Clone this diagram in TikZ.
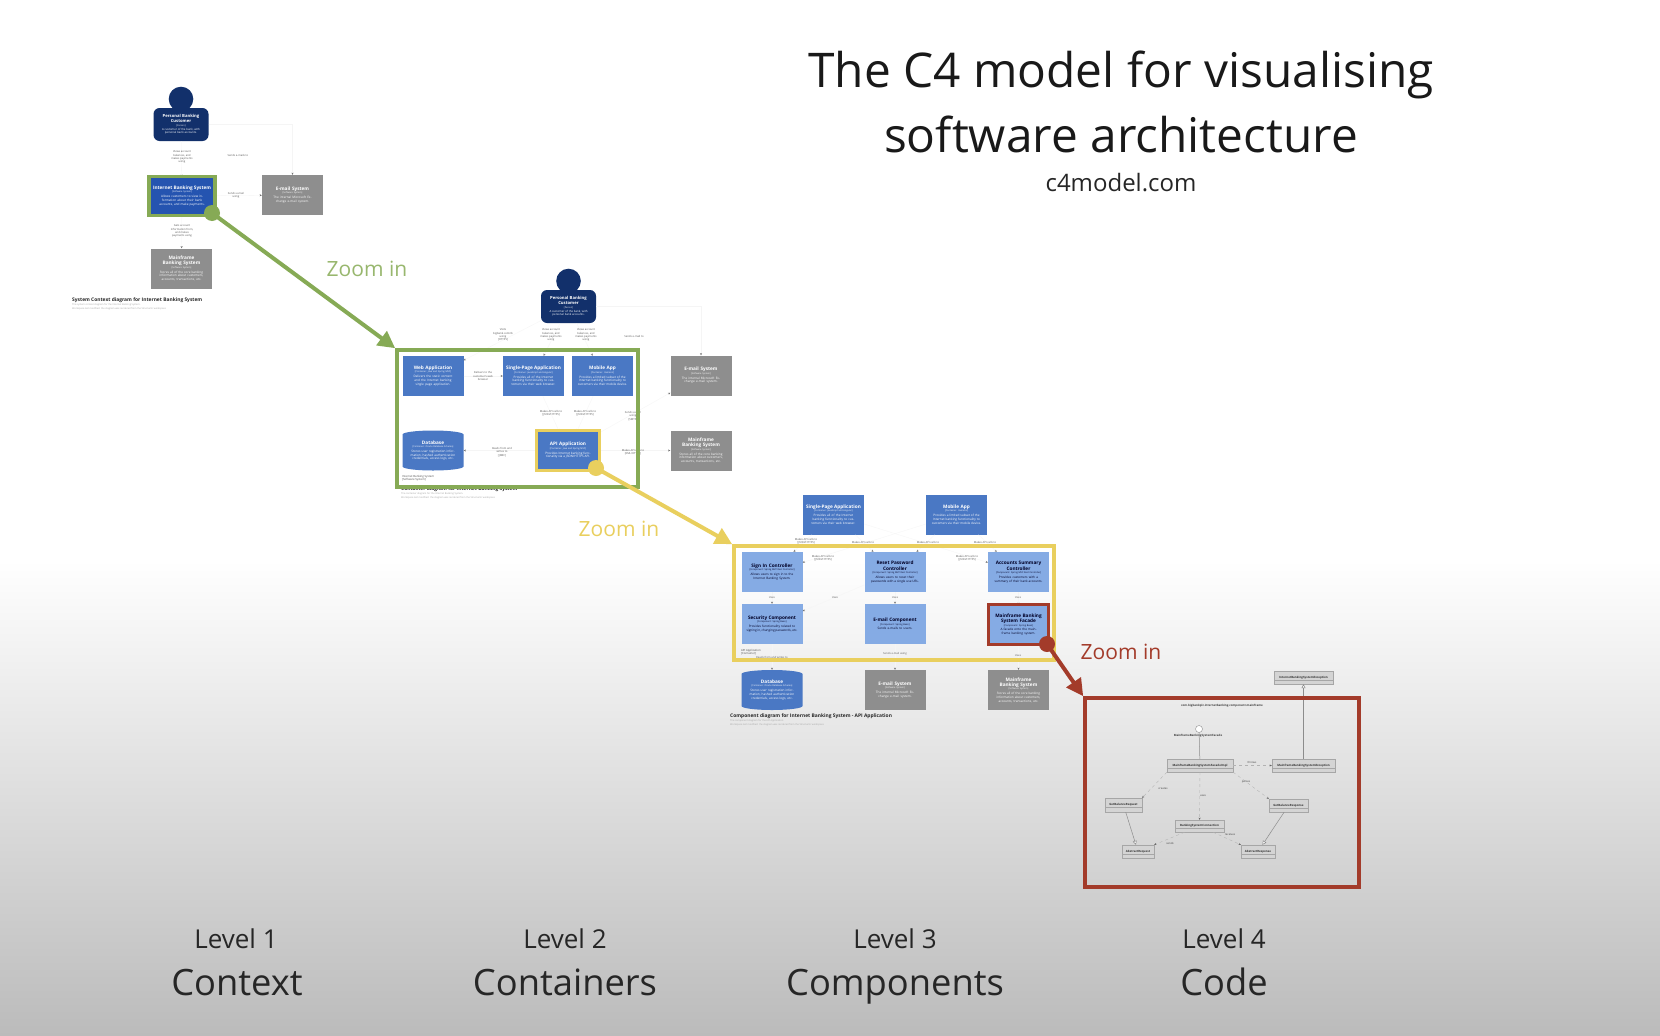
\documentclass[tikz,border=0pt]{standalone}
\usepackage{fontspec}
\setmainfont{Open Sans}
\usetikzlibrary{arrows.meta,shapes.geometric}
\definecolor{navy}{HTML}{12306B}
\definecolor{sysblue}{HTML}{2554B0}
\definecolor{contblue}{HTML}{4A78C4}
\definecolor{compblue}{HTML}{85ABE4}
\definecolor{extgray}{HTML}{8E8E8E}
\definecolor{zgreen}{HTML}{86AA55}
\definecolor{zyellow}{HTML}{E9CF5E}
\definecolor{zred}{HTML}{A33B2A}
\definecolor{bgbottom}{HTML}{BBBBBB}
\definecolor{umlfill}{HTML}{D4D4D4}
\newcommand{\szt}{\fontsize{4.7}{5.4}\selectfont\bfseries}
\newcommand{\szs}{\fontsize{2.3}{3.4}\selectfont}
\newcommand{\szd}{\fontsize{3.1}{3.7}\selectfont}
\newcommand{\boxtext}[3]{\spaceskip=0pt \xspaceskip=0pt {\szt #1\par}{\szs #2\par}\vskip 1.2pt{\szd \leftskip=3.5pt plus 2em \rightskip=3.5pt plus 2em #3\par}}
\newcommand{\mybox}[7]{\node[c4box,#1] (#2) at (#3,#4) {\boxtext{#5}{#6}{#7}};}
\newcommand{\myperson}[3]{%
  \node[circle,fill=navy,minimum size=24.6pt,inner sep=0pt] (#1head) at (#2,#3-25.5) {};
  \node[c4box,fill=navy,rounded corners=6pt,minimum width=55pt,minimum height=33pt,text width=48pt] (#1) at (#2,#3)
    {\spaceskip=0pt \xspaceskip=0pt {\fontsize{4.2}{4.8}\selectfont\bfseries Personal Banking Customer\par}{\szs [Person]\par}\vskip 1pt{\fontsize{2.8}{3.3}\selectfont A customer of the bank, with personal bank accounts.\par}};}
\tikzset{
  c4box/.style={rectangle,minimum width=61pt,minimum height=40pt,text width=58pt,align=center,inner sep=0pt,text=white},
  sysb/.style={fill=sysblue},
  contb/.style={fill=contblue},
  compb/.style={fill=compblue,text=black!85!blue},
  extb/.style={fill=extgray},
  dbb/.style={c4box,
    path picture={\fill[contblue] ([yshift=-4pt]path picture bounding box.north west)
      arc[start angle=180,end angle=0,x radius=30.5pt,y radius=4pt]
      -- ([yshift=4pt]path picture bounding box.south east)
      arc[start angle=0,end angle=-180,x radius=30.5pt,y radius=4pt] -- cycle;}},
  lab/.style={font=\fontsize{2.7}{3.3}\selectfont,text=black!65,align=center,inner sep=0pt},
  faint/.style={draw=black!4,line width=.3pt,-{Stealth[length=2.2pt,width=2pt,black!55]}},
  frame/.style={draw,line width=3.6pt},
  zoomdot/.style={circle,minimum size=16pt,inner sep=0pt},
  zoomarrow/.style={line width=4pt,-{Triangle[length=17pt,width=17pt]}},
  zoomlabel/.style={font=\fontsize{21}{25}\selectfont,inner sep=0pt},
  dtitle/.style={font=\fontsize{4.9}{5.5}\selectfont\bfseries,anchor=west,inner sep=0pt,text=black!85},
  dsub/.style={font=\fontsize{2.4}{3}\selectfont,anchor=west,inner sep=0pt,text=black!35},
  scopelab/.style={font=\fontsize{2.8}{3.3}\selectfont,anchor=west,inner sep=0pt,text=black!70,align=left},
  uml/.style={rectangle,draw=black!35,line width=.4pt,fill=umlfill,font=\fontsize{2.9}{3.4}\selectfont\bfseries,text=black!80,inner sep=0pt,
    path picture={\draw[black!35,line width=.3pt] ([yshift=-2.5pt]path picture bounding box.west) -- ([yshift=-2.5pt]path picture bounding box.east);}},
  umldep/.style={draw=black!30,line width=.35pt,dashed,-{Stealth[length=2.2pt,width=2pt,black!60]}},
  umlreal/.style={draw=black!45,line width=.5pt,-{Triangle[open,length=4pt,width=4pt,fill=white]}},
  umllab/.style={font=\fontsize{2.7}{3.2}\selectfont,text=black!75,inner sep=0pt},
  lvl/.style={font=\fontsize{26}{30}\selectfont,text=black!85,inner sep=0pt,anchor=base},
  lvlname/.style={font=\fontsize{36.3}{42}\selectfont,text=black!85,inner sep=0pt,anchor=base},
  head1/.style={font=\fontsize{47.8}{56}\selectfont,text=black!90,inner sep=0pt,anchor=base},
}
\begin{document}
\begin{tikzpicture}[x=1pt,y=-1pt]
\useasboundingbox (0,0) rectangle (1660,1036);
% background
\fill[white] (0,0) rectangle (1660,560);
\shade[top color=white,bottom color=bgbottom] (0,560) rectangle (1660,1036);

% heading
\node[head1] (hl1) at (1121,87) {The C4 model for visualising};
\node[head1] (hl2) at (1121,152) {software architecture};
\node[font=\fontsize{24}{28}\selectfont,text=black!85,inner sep=0pt,anchor=base] (hl3) at (1121,191.5) {c4model.com};

%% ---------- Level 1
\myperson{aperson}{181}{124.5}
\mybox{sysb,minimum width=64pt,minimum height=38pt}{asys}{182}{196}{Internet Banking System}{[Software System]}{Allows customers to view information about their bank accounts, and make payments.}
\mybox{extb}{amail}{292.5}{195}{E-mail System}{[Software System]}{The internal Microsoft Exchange e-mail system.}
\mybox{extb}{amain}{181.5}{268.5}{Mainframe Banking System}{[Software System]}{Stores all of the core banking information about customers, accounts, transactions, etc.}
\draw[faint] (aperson) -- (asys);
\draw[faint] (asys) -- (amail);
\draw[faint] (asys) -- (amain);
\draw[faint] (aperson.east) -| (amail.north);
\node[lab] (al1) at (182,157) {Views account\\balances, and\\makes payments\\using};
\node[lab] (al2) at (238,155) {Sends e-mails to};
\node[lab] (al3) at (236,195) {Sends e-mail\\using};
\node[lab] (al4) at (182,231) {Gets account\\information from,\\and makes\\payments using};
\node[dtitle] (at1) at (72,300) {System Context diagram for Internet Banking System};
\node[dsub] (at2) at (72,305) {The system context diagram for the Internet Banking System.};
\node[dsub] (at3) at (72,309) {Workspace last modified: the diagram was rendered from the Structurizr workspace};

%% ---------- Level 2
\myperson{bperson}{568.5}{306.5}
\mybox{contb}{bweb}{433}{376}{Web Application}{[Container: Java and Spring MVC]}{Delivers the static content and the Internet banking single page application.}
\mybox{contb}{bspa}{533.5}{376}{Single-Page Application}{[Container: JavaScript and Angular]}{Provides all of the Internet banking functionality to customers via their web browser.}
\mybox{contb}{bmob}{602.5}{376}{Mobile App}{[Container: Xamarin]}{Provides a limited subset of the Internet banking functionality to customers via their mobile device.}
\mybox{extb}{bmail}{701}{375.5}{E-mail System}{[Software System]}{The internal Microsoft Exchange e-mail system.}
\mybox{extb}{bmain}{701}{450.5}{Mainframe Banking System}{[Software System]}{Stores all of the core banking information about customers, accounts, transactions, etc.}
\node[dbb] (bdb) at (433,450.5) {\boxtext{Database}{[Container: Oracle Database Schema]}{Stores user registration information, hashed authentication credentials, access logs, etc.}};
\mybox{contb,minimum width=61pt,minimum height=38pt,text width=54pt}{bapi}{568}{450.5}{API Application}{[Container: Java and Spring MVC]}{Provides Internet banking functionality via a JSON/HTTPS API.}
\draw[faint] (bperson) -- (bweb);
\draw[faint] (bperson) -- (bspa);
\draw[faint] (bperson) -- (bmob);
\draw[faint] (bperson.east) -| (bmail.north);
\draw[faint] (bweb) -- (bspa);
\draw[faint] (bspa) -- (bapi);
\draw[faint] (bmob) -- (bapi);
\draw[faint] (bapi) -- (bdb);
\draw[faint] (bapi) -- (bmain);
\draw[faint] (bapi) -- (bmail);
\node[lab] (bl1) at (503,335) {Visits\\bigbank.com/ib\\using\\{[HTTPS]}};
\node[lab] (bl2) at (551,335) {Views account\\balances, and\\makes payments\\using};
\node[lab] (bl3) at (586,335) {Views account\\balances, and\\makes payments\\using};
\node[lab] (bl4) at (634,336) {Sends e-mail to};
\node[lab] (bl5) at (483,376) {Delivers to the\\customer's web\\browser};
\node[lab] (bl6) at (551,413) {Makes API calls to\\{[JSON/HTTPS]}};
\node[lab] (bl7) at (585,413) {Makes API calls to\\{[JSON/HTTPS]}};
\node[lab] (bl8) at (633,416) {Sends e-mail\\using\\{[SMTP]}};
\node[lab] (bl9) at (502,452) {Reads from and\\writes to\\{[JDBC]}};
\node[lab] (bl10) at (633,452) {Makes API calls to\\{[XML/HTTPS]}};
\node[scopelab] (bs) at (402,478) {Internet Banking System\\{[Software System]}};
\node[dtitle] (bt1) at (401,489) {Container diagram for Internet Banking System};
\node[dsub] (bt2) at (401,494) {The container diagram for the Internet Banking System.};
\node[dsub] (bt3) at (401,498) {Workspace last modified: the diagram was rendered from the Structurizr workspace};

%% ---------- Level 3
\mybox{contb}{cspa}{833.5}{514.5}{Single-Page Application}{[Container: JavaScript and Angular]}{Provides all of the Internet banking functionality to customers via their web browser.}
\mybox{contb}{cmob}{956.5}{514.5}{Mobile App}{[Container: Xamarin]}{Provides a limited subset of the Internet banking functionality to customers via their mobile device.}
\mybox{compb}{csign}{772}{572}{Sign In Controller}{[Component: Spring MVC Rest Controller]}{Allows users to sign in to the Internet Banking System.}
\mybox{compb}{creset}{895}{572}{Reset Password Controller}{[Component: Spring MVC Rest Controller]}{Allows users to reset their passwords with a single use URL.}
\mybox{compb}{cacc}{1018.5}{572}{Accounts Summary Controller}{[Component: Spring MVC Rest Controller]}{Provides customers with a summary of their bank accounts.}
\mybox{compb}{csec}{772}{624}{Security Component}{[Component: Spring Bean]}{Provides functionality related to signing in, changing passwords, etc.}
\mybox{compb}{cemail}{895}{624}{E-mail Component}{[Component: Spring Bean]}{Sends e-mails to users.}
\mybox{compb,minimum width=59pt,minimum height=39pt,text width=54pt}{cfac}{1018.5}{624.5}{Mainframe Banking System Facade}{[Component: Spring Bean]}{A facade onto the mainframe banking system.}
\node[dbb] (cdb) at (772,690) {\boxtext{Database}{[Container: Oracle Database Schema]}{Stores user registration information, hashed authentication credentials, access logs, etc.}};
\mybox{extb}{cmail}{895}{690}{E-mail System}{[Software System]}{The internal Microsoft Exchange e-mail system.}
\mybox{extb}{cmain}{1018.5}{690}{Mainframe Banking System}{[Software System]}{Stores all of the core banking information about customers, accounts, transactions, etc.}
\draw[faint] (cspa) -- (csign);
\draw[faint] (cspa) -- (creset);
\draw[faint] (cspa) -- (cacc);
\draw[faint] (cmob) -- (csign);
\draw[faint] (cmob) -- (creset);
\draw[faint] (cmob) -- (cacc);
\draw[faint] (csign) -- (csec);
\draw[faint] (creset) -- (csec);
\draw[faint] (creset) -- (cemail);
\draw[faint] (cacc) -- (cfac);
\draw[faint] (csec) -- (cdb);
\draw[faint] (cemail) -- (cmail);
\draw[faint] (cfac) -- (cmain);
\node[lab] (cl1) at (806,541) {Makes API calls to\\{[JSON/HTTPS]}};
\node[lab] (cl2) at (863,542) {Makes API calls to};
\node[lab] (cl3) at (928,542) {Makes API calls to};
\node[lab] (cl4) at (985,542) {Makes API calls to};
\node[lab] (cl5) at (823,558) {Makes API calls to\\{[JSON/HTTPS]}};
\node[lab] (cl6) at (967,558) {Makes API calls to\\{[JSON/HTTPS]}};
\node[lab] (cl7) at (772,598) {Uses};
\node[lab] (cl8) at (835,598) {Uses};
\node[lab] (cl9) at (895,598) {Uses};
\node[lab] (cl10) at (1018,598) {Uses};
\node[lab] (cl11) at (772,657) {Reads from and writes to};
\node[lab] (cl12) at (895,654) {Sends e-mail using};
\node[lab] (cl13) at (1018,656) {Uses};
\node[scopelab] (cs) at (741,652) {API Application\\{[Container]}};
\node[dtitle] (ct1) at (730,716) {Component diagram for Internet Banking System - API Application};
\node[dsub] (ct2) at (730,721) {The component diagram for the API Application.};
\node[dsub] (ct3) at (730,724.5) {Workspace last modified: the diagram was rendered from the Structurizr workspace};

%% ---------- Level 4
\node[umllab,font=\fontsize{2.9}{3.4}\selectfont\bfseries] (dpk) at (1222,706) {com.bigbankplc.internetbanking.component.mainframe};
\node[uml,minimum width=59pt,minimum height=13pt] (dex) at (1303.5,677.5) {InternetBankingSystemException};
\node[circle,draw=black!45,fill=white,line width=.4pt,minimum size=7pt,inner sep=0pt] (dif) at (1199,729) {};
\node[umllab,font=\fontsize{2.9}{3.4}\selectfont\bfseries] (dfn) at (1198,736) {MainframeBankingSystemFacade};
\node[uml,minimum width=66pt,minimum height=13pt] (dimpl) at (1200,765.5) {MainframeBankingSystemFacadeImpl};
\node[uml,minimum width=63pt,minimum height=13pt] (dme) at (1303.5,765.5) {MainframeBankingSystemException};
\node[uml,minimum width=37pt,minimum height=14pt] (dreq) at (1123.5,805) {GetBalanceRequest};
\node[uml,minimum width=39pt,minimum height=13pt] (dres) at (1288.5,805.5) {GetBalanceResponse};
\node[uml,minimum width=49pt,minimum height=12pt] (dconn) at (1199.5,826) {BankingSystemConnection};
\node[uml,minimum width=32pt,minimum height=13pt] (dareq) at (1138,851.5) {AbstractRequest};
\node[uml,minimum width=34pt,minimum height=13pt] (dares) at (1258,851.5) {AbstractResponse};
\draw[umlreal] (dme) -- (dex);
\draw[black!45,line width=.5pt] (dif) -- (dimpl);
\draw[umldep] (dimpl) -- (dme);
\draw[umldep] (dimpl) -- (dconn);
\draw[umldep] (dimpl.south west) -- (dreq.north east);
\draw[umldep] (dimpl.south east) -- (dres.north west);
\draw[umlreal] (dreq) -- (dareq);
\draw[umlreal] (dres) -- (dares);
\draw[umldep] (dconn) -- (dareq.north east);
\draw[umldep] (dconn) -- (dares.north west);
\node[umllab] (dl1) at (1252,762) {throws};
\node[umllab] (dl2) at (1163,789) {creates};
\node[umllab] (dl3) at (1246,782) {parses};
\node[umllab] (dl4) at (1203,796) {uses};
\node[umllab] (dl5) at (1170,843) {sends};
\node[umllab] (dl6) at (1230,835) {receives};

%% ---------- frames and zoom arrows
\node[frame,draw=zgreen,minimum width=66pt,minimum height=39pt,inner sep=0pt,rectangle] (fa) at (182,196) {};
\node[frame,draw=zgreen,minimum width=241pt,minimum height=137pt,inner sep=0pt,rectangle] (fb) at (517.5,418.5) {};
\node[frame,draw=zyellow,minimum width=63pt,minimum height=40pt,inner sep=0pt,rectangle] (fc) at (568,450.5) {};
\node[frame,draw=zyellow,minimum width=320pt,minimum height=114pt,inner sep=0pt,rectangle] (fd) at (894,603) {};
\node[frame,draw=zred,minimum width=60pt,minimum height=40pt,inner sep=0pt,rectangle] (fe) at (1018.5,624.5) {};
\node[frame,draw=zred,minimum width=274pt,minimum height=189pt,inner sep=0pt,rectangle] (ff) at (1222,792.5) {};
\node[zoomdot,fill=zgreen] (dota) at (212,213) {};
\node[zoomdot,fill=zyellow] (dotb) at (596,468) {};
\node[zoomdot,fill=zred] (dotc) at (1047,644) {};
\coordinate (tipa) at (fb.north west);
\coordinate (tipb) at (fd.north west);
\coordinate (tipc) at (ff.north west);
\draw[zoomarrow,zgreen] (dota.center) -- (tipa);
\draw[zoomarrow,zyellow] (dotb.center) -- (tipb);
\draw[zoomarrow,zred] (dotc.center) -- (tipc);
\node[zoomlabel,text=zgreen!85!white] (za) at (367,269) {Zoom in};
\node[zoomlabel,text=zyellow] (zb) at (619,529) {Zoom in};
\node[zoomlabel,text=zred] (zc) at (1121,652) {Zoom in};

%% ---------- level captions
\node[lvl] (l1a) at (236,948) {Level 1};
\node[lvlname] (l1b) at (237,995) {Context};
\node[lvl] (l2a) at (565,948) {Level 2};
\node[lvlname] (l2b) at (565,995) {Containers};
\node[lvl] (l3a) at (895,948) {Level 3};
\node[lvlname] (l3b) at (895,995) {Components};
\node[lvl] (l4a) at (1224,948) {Level 4};
\node[lvlname] (l4b) at (1224,995) {Code};
\end{tikzpicture}
\end{document}
